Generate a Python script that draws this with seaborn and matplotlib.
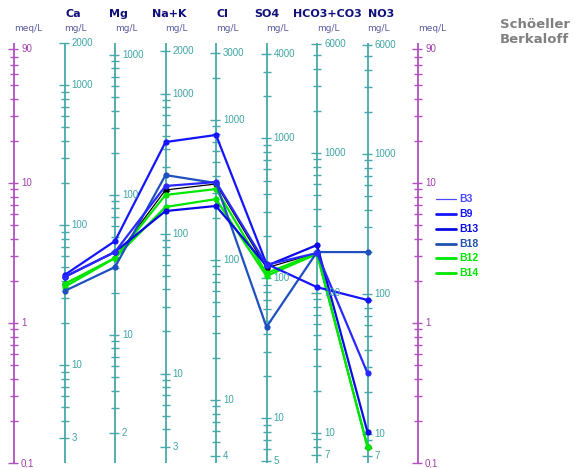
import numpy as np
import pandas as pd
import matplotlib
matplotlib.use("Agg")
import matplotlib.pyplot as plt
import seaborn as sns

# diagram columns and equivalent weights (mg/L per meq/L)
ions = ["Ca", "Mg", "Na+K", "Cl", "SO4", "HCO3+CO3", "NO3"]
eq_weight = [20.04, 12.15, 23.0, 35.45, 48.03, 61.02, 62.0]

# concentrations in mg/L, in the order of ions
B3 = [42.7, 39.1, 219, 360, 125, 193, 27.2]
B9 = [44.1, 46.8, 451, 781, 127, 110, 90.5]
B13 = [42.7, 39.1, 145, 243, 123, 220, 10.3]
B18 = [33.9, 30.5, 262, 354, 45, 196, 199]
B12 = [38.1, 35.4, 189, 321, 109, 193, 8.1]
B14 = [36.2, 35.4, 155, 272, 104, 190, 8.1]
ref = [38.1, 35.4, 205, 349, 119, 193, 8.1]  # black line, not in legend

samples = ["B3", "B9", "B13", "B18", "B12", "B14"]
colors = {"B3": "#2828ff", "B9": "#1414ff", "B13": "#0a0ae6", "B18": "#1e50c0",
          "B12": "#00e600", "B14": "#00e600", "ref": "#000000"}
widths = {"B3": 1.6, "B9": 1.6, "B13": 1.6, "B18": 1.6, "B12": 1.6, "B14": 1.6, "ref": 0.9}
legend_widths = {"B3": 0.9, "B9": 2.0, "B13": 2.0, "B18": 2.0, "B12": 2.0, "B14": 2.0}
legend_colors = {"B3": "#4848ff", "B9": "#1414ff", "B13": "#0a0ae6", "B18": "#2050b0",
                 "B12": "#00e600", "B14": "#00e600"}

rows = []
for name, vals in zip(samples + ["ref"], [B3, B9, B13, B18, B12, B14, ref]):
    for i, (v, w) in enumerate(zip(vals, eq_weight)):
        rows.append({"sample": name, "pos": i + 1, "meq": v / w})
df = pd.DataFrame(rows)

sns.set_style("white")
plt.rcParams["font.family"] = ["Liberation Sans", "DejaVu Sans"]

fig = plt.figure(figsize=(5.75, 4.68), dpi=100)
ax = fig.add_axes([0, 0, 1, 1])
ax.set_yscale("log")
ax.set_xlim(-14 / 50.5, (575 - 14) / 50.5)
ax.set_ylim(10 ** ((323 - 468) / 140), 10 ** (323 / 140))
ax.axis("off")

def px(d):
    return d / 50.5

def py(y):
    return 10 ** ((323 - y) / 140)

teal = "#48a8a8"
purple = "#b050c0"
navy = "#10107a"
unit_col = "#5a5aa0"

# meq/L axes at both sides
for xa in [0, 8]:
    ax.vlines(xa, 0.1, 100, color=purple, lw=1.3)
    for k in range(-1, 2):
        for n in range(1, 10):
            v = n * 10 ** k
            big = n == 1 or v == 90
            ax.hlines(v, xa - px(6 if big else 4), xa + px(4), color=purple, lw=1)
            if big:
                lab = "0,1" if v < 1 else str(int(v))
                ax.text(xa + px(7), v, lab, color="#a040a8", fontsize=7, va="center", ha="left")
    ax.text(xa, py(29), "meq/L", color=unit_col, fontsize=6.5, va="center", ha="left",
            family="DejaVu Sans")

# mg/L axes for each ion
title_x = [73, 118, 169, 222, 267, 327, 381]
for i, (ion, w) in enumerate(zip(ions, eq_weight)):
    xa = i + 1
    ax.vlines(xa, 0.1, 100, color=teal, lw=1.3)
    vals = []
    for k in range(-1, 5):
        for n in range(1, 10):
            v = n * 10 ** k
            if 0.1 * w <= v < 100 * w:
                vals.append(v)
    for v in vals:
        big = v == vals[0] or v == vals[-1] or str(v).startswith("1")
        ax.hlines(v / w, xa - px(6 if big else 4), xa + px(4), color=teal, lw=1)
        if big:
            ax.text(xa + px(7), v / w, str(int(v)), color="#40a4a4", fontsize=7,
                    va="center", ha="left")
    ax.text(px(title_x[i] - 14), py(14), ion, color=navy, fontsize=8,
            fontweight="bold", ha="center", va="center", family="DejaVu Sans")
    ax.text(xa, py(29), "mg/L", color=unit_col, fontsize=6.5, va="center", ha="left",
            family="DejaVu Sans")

# sample lines
for name in ["ref"] + samples[::-1]:
    sub = df[df["sample"] == name]
    sns.lineplot(data=sub, x="pos", y="meq", ax=ax, color=colors[name],
                 lw=widths[name], sort=False, estimator=None, legend=False,
                 marker="o", markersize=4.5, markeredgewidth=0)

# legend
for j, name in enumerate(samples):
    yy = py(199.5 + 14.7 * j)
    ax.plot([px(436 - 14), px(456 - 14)], [yy, yy], color=legend_colors[name],
            lw=legend_widths[name])
    ax.text(px(459 - 14), yy, name, color=legend_colors[name], fontsize=7.5,
            fontweight="bold", va="center", ha="left")

ax.text(px(500 - 14), py(25), "Schöeller", color="#808080", fontsize=9.5,
        fontweight="bold", va="center", ha="left", family="DejaVu Sans")
ax.text(px(500 - 14), py(40), "Berkaloff", color="#808080", fontsize=9.5,
        fontweight="bold", va="center", ha="left", family="DejaVu Sans")

fig.savefig("out.png", dpi=100, facecolor="white")
